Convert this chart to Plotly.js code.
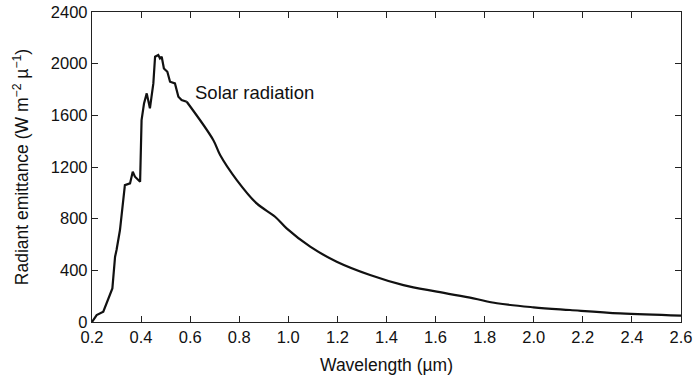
<!DOCTYPE html>
<html>
<head>
<meta charset="utf-8">
<script src="https://cdn.plot.ly/plotly-3.0.1.min.js"></script>
<style>html,body{margin:0;padding:0;background:#fff}#chart{width:694px;height:378px}</style>
</head>
<body>
<div id="chart"></div>
<script>
// Solar spectral radiant emittance versus wavelength
const wavelength = [0.200, 0.219, 0.246, 0.260, 0.270, 0.283, 0.294, 0.300, 0.314, 0.334, 0.355, 0.366, 0.375, 0.396,
  0.402, 0.412, 0.423, 0.436, 0.450, 0.457, 0.470, 0.477, 0.484, 0.493, 0.507, 0.518, 0.538, 0.552, 0.565, 0.586,
  0.694, 0.722, 0.790, 0.871, 0.946, 0.993, 1.089, 1.197, 1.333, 1.469, 1.605, 1.754, 1.850, 1.999, 2.148, 2.352, 2.600];
const emittance = [0, 54, 80, 145, 200, 260, 505, 557, 712, 1060, 1073, 1163, 1125, 1086,
  1563, 1692, 1770, 1654, 1847, 2054, 2067, 2041, 2054, 1963, 1937, 1860, 1847, 1744, 1718, 1705,
  1409, 1293, 1099, 918, 815, 725, 583, 467, 364, 286, 235, 183, 145, 114, 93, 67, 50];
const xTicks = [0.2, 0.4, 0.6, 0.8, 1.0, 1.2, 1.4, 1.6, 1.8, 2.0, 2.2, 2.4, 2.6];
const yTicks = [0, 400, 800, 1200, 1600, 2000, 2400];
const curveLabel = "Solar radiation";

// The jagged UV/visible part is drawn straight; the smooth infrared tail as a spline.
const splitAt = wavelength.indexOf(0.586);
const lineStyle = {color: "#111", width: 2.2};

const fam = "Liberation Sans, Arial, sans-serif";
const font = {family: fam, color: "#111", size: 16.5};
const axisCommon = {
  showline: true, linecolor: "#222", linewidth: 1.2, mirror: "ticks",
  ticks: "inside", ticklen: 6, tickcolor: "#222", tickwidth: 1,
  showgrid: false, zeroline: false, tickfont: font
};

Plotly.newPlot("chart", [{
  x: wavelength.slice(0, splitAt + 1), y: emittance.slice(0, splitAt + 1),
  type: "scatter", mode: "lines", line: Object.assign({shape: "linear"}, lineStyle), hoverinfo: "skip"
}, {
  x: wavelength.slice(splitAt), y: emittance.slice(splitAt),
  type: "scatter", mode: "lines", line: Object.assign({shape: "spline", smoothing: 1}, lineStyle), hoverinfo: "skip"
}], {
  width: 694, height: 378,
  margin: {l: 92, r: 13, t: 12, b: 56},
  paper_bgcolor: "#fff", plot_bgcolor: "#fff",
  showlegend: false,
  font: font,
  xaxis: Object.assign({}, axisCommon, {
    range: [0.2, 2.6], tickvals: xTicks, tickformat: ".1f",
    title: {text: "Wavelength (µm)", font: {family: fam, size: 17.5, color: "#111"}, standoff: 13}
  }),
  yaxis: Object.assign({}, axisCommon, {
    range: [0, 2400], tickvals: yTicks,
    title: {text: "Radiant emittance (W m<sup>−2</sup> µ<sup>−1</sup>)", font: {family: fam, size: 17.5, color: "#111"}, standoff: 17}
  }),
  annotations: [{
    x: 0.61, y: 1780, xref: "x", yref: "y", xanchor: "left", yanchor: "middle",
    text: curveLabel, showarrow: false, font: {family: fam, size: 18.5, color: "#111"}
  }]
}, {displayModeBar: false, staticPlot: true});
</script>
</body>
</html>
